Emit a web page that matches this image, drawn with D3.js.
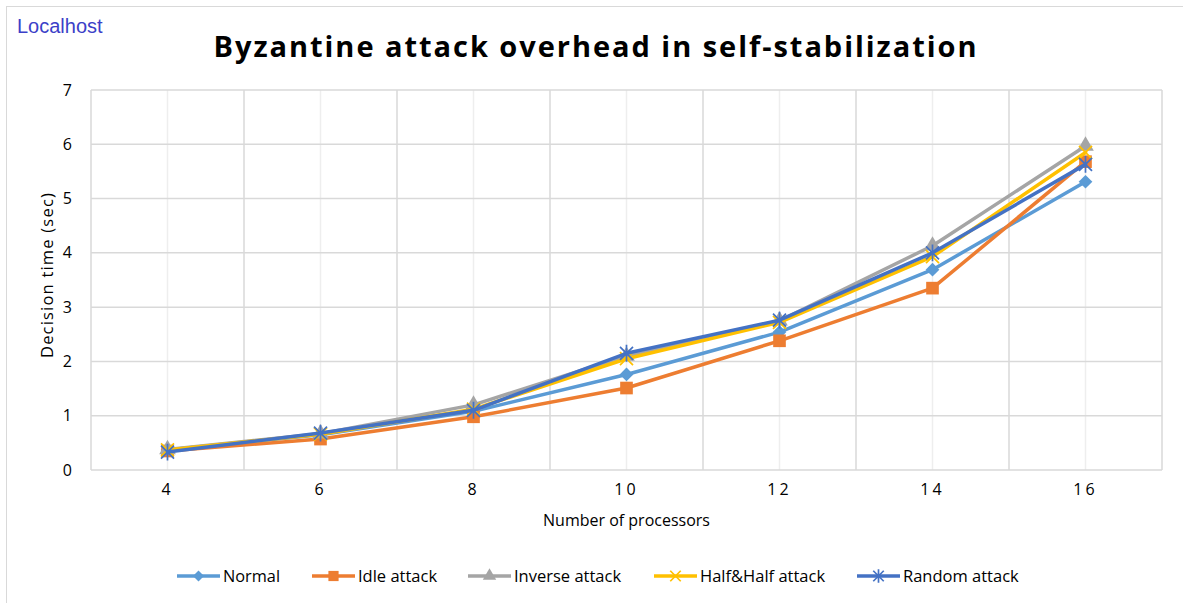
<!DOCTYPE html>
<html><head><meta charset="utf-8">
<script src="https://cdn.jsdelivr.net/npm/d3@7"></script>
<style>
html,body{margin:0;padding:0;background:#fff;}
svg{display:block;}
</style></head>
<body>
<svg id="chart" width="1183" height="603"></svg>
<script>
const categories = [4, 6, 8, 10, 12, 14, 16];
const normal   = [0.37, 0.65, 1.08, 1.76, 2.54, 3.69, 5.31];
const idle     = [0.35, 0.57, 0.98, 1.51, 2.38, 3.35, 5.68];
const inverse  = [0.38, 0.67, 1.20, 2.10, 2.75, 4.13, 5.97];
const halfHalf = [0.37, 0.66, 1.12, 2.05, 2.72, 3.93, 5.85];
const random   = [0.33, 0.68, 1.10, 2.15, 2.76, 4.00, 5.63];
const seriesNames = ["Normal", "Idle attack", "Inverse attack", "Half&Half attack", "Random attack"];
const yTicks = [0, 1, 2, 3, 4, 5, 6, 7];

(function () {
const colors = ["#5B9BD5", "#ED7D31", "#A5A5A5", "#FFC000", "#4472C4"];
const markers = ["diamond", "square", "triangle", "x", "star"];
const seriesData = [normal, idle, inverse, halfHalf, random];

const svg = d3.select("#chart");
const W = 1183, H = 603;
const font = "'Open Sans', Lato, sans-serif";

function fitSpacing(sel, target) {
  const w = sel.node().getComputedTextLength();
  const n = sel.text().length;
  sel.attr("letter-spacing", Math.max(0, (target - w) / n) + "px");
}

// outer border
svg.append("rect").attr("x", 6.5).attr("y", 6.5).attr("width", W - 4).attr("height", H)
  .attr("fill", "#fff").attr("stroke", "#d9d9d9").attr("stroke-width", 1);

const pLeft = 91, pRight = 1162, pTop = 90, pBottom = 470;
const x = d3.scaleBand().domain(categories).range([pLeft, pRight]);
const y = d3.scaleLinear().domain([0, 7]).range([pBottom, pTop]);

// minor vertical gridlines (at category centres)
svg.append("g").selectAll("line").data(categories).join("line")
  .attr("x1", d => x(d) + x.bandwidth() / 2).attr("x2", d => x(d) + x.bandwidth() / 2)
  .attr("y1", pTop).attr("y2", pBottom).attr("stroke", "#eeeeee").attr("stroke-width", 1.5);

// major vertical gridlines (band edges)
const edges = categories.map(d => x(d)).concat([pRight]);
svg.append("g").selectAll("line").data(edges).join("line")
  .attr("x1", d => d).attr("x2", d => d).attr("y1", pTop).attr("y2", pBottom)
  .attr("stroke", "#d9d9d9").attr("stroke-width", 1.5);

// horizontal gridlines
svg.append("g").selectAll("line").data(yTicks).join("line")
  .attr("x1", pLeft).attr("x2", pRight).attr("y1", d => y(d)).attr("y2", d => y(d))
  .attr("stroke", "#d9d9d9").attr("stroke-width", 1.5);

// y axis labels
const yAxis = d3.axisLeft(y).tickValues(yTicks).tickFormat(d3.format("d")).tickSize(0).tickPadding(19);
const gy = svg.append("g").attr("transform", `translate(${pLeft},0)`).call(yAxis);
gy.select(".domain").remove();
gy.selectAll("text").attr("font-family", font).attr("font-size", 16).attr("fill", "#000");

// x axis labels
const xAxis = d3.axisBottom(x).tickSize(0).tickPadding(14);
const gx = svg.append("g").attr("transform", `translate(0,${pBottom})`).call(xAxis);
gx.select(".domain").remove();
gx.selectAll("text").attr("font-family", font).attr("font-size", 16).attr("fill", "#000")
  .attr("letter-spacing", "3px");

// axis titles
svg.append("text").attr("x", (pLeft + pRight) / 2).attr("y", 526).attr("text-anchor", "middle")
  .attr("font-family", font).attr("font-size", 16).attr("fill", "#000").text("Number of processors");
svg.append("text").attr("transform", `translate(53,275) rotate(-90)`)
  .attr("text-anchor", "middle").attr("font-family", font).attr("font-size", 16.5).attr("fill", "#000")
  .attr("letter-spacing", "1.2px")
  .text("Decision time (sec)");

// title
const title = svg.append("text").attr("x", 596).attr("y", 57).attr("text-anchor", "middle")
  .attr("font-family", font).attr("font-weight", "bold").attr("font-size", 29).attr("fill", "#000")
  .text("Byzantine attack overhead in self-stabilization");
fitSpacing(title, 765);

// localhost
svg.append("text").attr("x", 17).attr("y", 33).attr("font-family", "'Liberation Sans', Arial, sans-serif")
  .attr("font-size", 20).attr("fill", "#3c3fc8").text("Localhost");

// marker drawing
function drawMarker(g, type, color, cx, cy, scale) {
  scale = scale || 1;
  if (type === "diamond") {
    g.append("path").attr("d", d3.symbol(d3.symbolDiamond2, 120 * scale)())
      .attr("transform", `translate(${cx},${cy})`).attr("fill", color);
  } else if (type === "square") {
    g.append("path").attr("d", d3.symbol(d3.symbolSquare, 160 * scale)())
      .attr("transform", `translate(${cx},${cy})`).attr("fill", color);
  } else if (type === "triangle") {
    g.append("path").attr("d", d3.symbol(d3.symbolTriangle, 120 * scale)())
      .attr("transform", `translate(${cx},${cy})`).attr("fill", color);
  } else if (type === "x") {
    const s = 6.5 * Math.sqrt(scale);
    g.append("path").attr("d", `M${-s},${-s}L${s},${s}M${-s},${s}L${s},${-s}`)
      .attr("transform", `translate(${cx},${cy})`).attr("stroke", color).attr("stroke-width", 1.7).attr("fill", "none");
  } else if (type === "star") {
    const s = 6.5 * Math.sqrt(scale);
    g.append("path").attr("d", `M${-s},${-s}L${s},${s}M${-s},${s}L${s},${-s}M0,${-s * 1.3}L0,${s * 1.3}`)
      .attr("transform", `translate(${cx},${cy})`).attr("stroke", color).attr("stroke-width", 1.7).attr("fill", "none");
  }
}

const cxOf = d => x(d) + x.bandwidth() / 2;
const line = d3.line().x((d, i) => cxOf(categories[i])).y(d => y(d));

seriesData.forEach((vals, si) => {
  const g = svg.append("g");
  g.append("path").datum(vals).attr("d", line).attr("fill", "none")
    .attr("stroke", colors[si]).attr("stroke-width", 3.5).attr("stroke-linejoin", "round").attr("stroke-linecap", "round");
  vals.forEach((v, i) => drawMarker(g, markers[si], colors[si], cxOf(categories[i]), y(v)));
});

// legend
const legendLineX = [177, 312, 468, 654, 857];
const legendTextW = [57, 80, 108, 127, 117];
const ly = 576;
seriesNames.forEach((name, si) => {
  const g = svg.append("g");
  const x0 = legendLineX[si];
  g.append("line").attr("x1", x0).attr("x2", x0 + 43).attr("y1", ly).attr("y2", ly)
    .attr("stroke", colors[si]).attr("stroke-width", 3.5);
  drawMarker(g, markers[si], colors[si], x0 + 21.5, ly, 0.65);
  const t = g.append("text").attr("x", x0 + 46).attr("y", ly + 6).attr("font-family", font)
    .attr("font-size", 16.5).attr("fill", "#000").text(name);
  const w = t.node().getComputedTextLength();
  if (w > legendTextW[si]) t.attr("textLength", legendTextW[si]).attr("lengthAdjust", "spacingAndGlyphs");
});
})();
</script>
</body></html>
